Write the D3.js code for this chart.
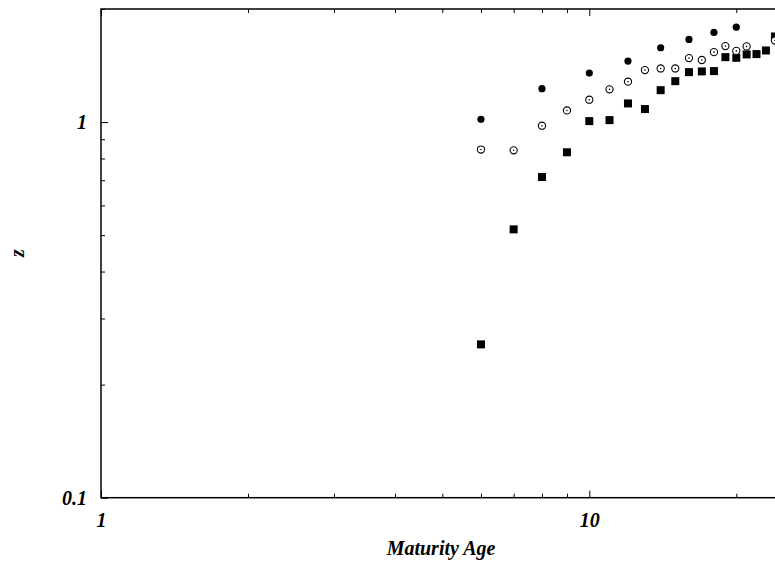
<!DOCTYPE html>
<html>
<head>
<meta charset="utf-8">
<script src="https://cdn.jsdelivr.net/npm/d3@7"></script>
<style>
  html, body { margin: 0; padding: 0; background: #fff; overflow: hidden; }
  svg { display: block; }
  .tick text, .label { font-family: "Liberation Serif", "Times New Roman", serif; font-weight: bold; font-style: italic; font-size: 20px; fill: #000; }
  .domain { display: none; }
  .tick line { stroke: #000; stroke-width: 1; }
</style>
</head>
<body>
<svg width="775" height="564"></svg>
<script>
// **** data ****
var filledAges = [6, 8, 10, 12, 14, 16, 18, 20];
var filledZ = [1.017, 1.227, 1.350, 1.453, 1.577, 1.660, 1.732, 1.789];

var openAges = [6, 7, 8, 9, 10, 11, 12, 13, 14, 15, 16, 17, 18, 19, 20, 21, 24];
var openZ = [0.845, 0.841, 0.978, 1.074, 1.147, 1.222, 1.281, 1.375, 1.389, 1.389, 1.480, 1.463, 1.535, 1.593, 1.547, 1.590, 1.649];

var squareAges = [6, 7, 8, 9, 10, 11, 12, 13, 14, 15, 16, 17, 18, 19, 20, 21, 22, 23, 24];
var squareZ = [0.256, 0.518, 0.714, 0.831, 1.006, 1.012, 1.121, 1.083, 1.216, 1.285, 1.358, 1.364, 1.367, 1.489, 1.483, 1.514, 1.517, 1.551, 1.69];

// tick labels that show inside the window
var xMajor = [1, 10, 100];
var xLabels = ['1', '10', ''];
var yMajor = [0.1, 1];
var yLabels = ['0.1', '1'];

// **** scales ****
var svg = d3.select('svg');

var x = d3.scaleLog().domain([1, 100]).range([101, 1077.6]);
var y = d3.scaleLog().domain([0.1, 2]).range([497.7, 9]);

var xMinor = x.ticks().filter(function(d) { return xMajor.indexOf(d) < 0; });
var yMinor = y.ticks().filter(function(d) { return yMajor.indexOf(d) < 0; });

// **** axes (ticks pointing inward, gnuplot style) ****
svg.append('g').attr('transform', 'translate(0,497.7)')
    .call(d3.axisBottom(x).tickValues(xMajor).tickSize(-7).tickPadding(15)
        .tickFormat(function(d, i) { return xLabels[i]; }));
svg.append('g').attr('transform', 'translate(0,497.7)')
    .call(d3.axisBottom(x).tickValues(xMinor).tickSize(-4).tickFormat(''));
svg.append('g').attr('transform', 'translate(0,9)')
    .call(d3.axisTop(x).tickValues(xMajor).tickSize(-7).tickFormat(''));
svg.append('g').attr('transform', 'translate(0,9)')
    .call(d3.axisTop(x).tickValues(xMinor).tickSize(-4).tickFormat(''));

svg.append('g').attr('transform', 'translate(101,0)')
    .call(d3.axisLeft(y).tickValues(yMajor).tickSize(-7).tickPadding(14)
        .tickFormat(function(d, i) { return yLabels[i]; }));
svg.append('g').attr('transform', 'translate(101,0)')
    .call(d3.axisLeft(y).tickValues(yMinor).tickSize(-4).tickFormat(''));

// frame
svg.append('rect')
    .attr('x', x(1)).attr('y', y(2))
    .attr('width', x(100) - x(1)).attr('height', y(0.1) - y(2))
    .attr('fill', 'none').attr('stroke', '#000').attr('stroke-width', 1.5);

// **** labels ****
svg.append('text').attr('class', 'label')
    .attr('x', 441).attr('y', 555)
    .attr('text-anchor', 'middle')
    .text('Maturity Age');

svg.append('text').attr('class', 'label')
    .attr('transform', 'translate(24,253) rotate(-90)')
    .attr('text-anchor', 'middle')
    .text('z');

// **** points ****
var filled = filledAges.map(function(a, i) { return {age: a, z: filledZ[i]}; });
var open = openAges.map(function(a, i) { return {age: a, z: openZ[i]}; });
var squares = squareAges.map(function(a, i) { return {age: a, z: squareZ[i]}; });

svg.selectAll('rect.sq')
    .data(squares)
    .enter()
    .append('rect')
    .attr('class', 'sq')
    .attr('x', function(d) { return x(d.age) - 4; })
    .attr('y', function(d) { return y(d.z) - 4; })
    .attr('width', 8)
    .attr('height', 8)
    .attr('fill', '#000');

svg.selectAll('circle.open')
    .data(open)
    .enter()
    .append('circle')
    .attr('class', 'open')
    .attr('cx', function(d) { return x(d.age); })
    .attr('cy', function(d) { return y(d.z); })
    .attr('r', 3.6)
    .attr('fill', '#fff')
    .attr('stroke', '#000')
    .attr('stroke-width', 1.1);

svg.selectAll('circle.dot')
    .data(open)
    .enter()
    .append('circle')
    .attr('class', 'dot')
    .attr('cx', function(d) { return x(d.age); })
    .attr('cy', function(d) { return y(d.z); })
    .attr('r', 0.8)
    .attr('fill', '#000');

svg.selectAll('circle.filled')
    .data(filled)
    .enter()
    .append('circle')
    .attr('class', 'filled')
    .attr('cx', function(d) { return x(d.age); })
    .attr('cy', function(d) { return y(d.z); })
    .attr('r', 3.6)
    .attr('fill', '#000');
</script>
</body>
</html>
